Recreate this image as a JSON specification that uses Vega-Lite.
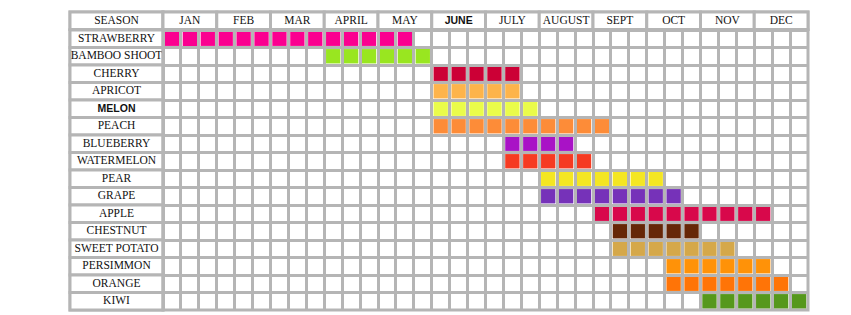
{
  "$schema": "https://vega.github.io/schema/vega-lite/v6.json",
  "background": "white",
  "padding": {"left": 67, "top": 9, "right": 0, "bottom": 0},
  "spacing": 0,
  "bounds": "flush",
  "columns": 2,
  "config": {
    "view": {"stroke": "#b5b5b5", "strokeWidth": 3},
    "concat": {"spacing": 0},
    "text": {"font": "Liberation Serif", "fontSize": 11.5, "color": "#111111"},
    "axis": {"labels": false, "ticks": false, "domain": false, "title": null, "grid": true, "gridColor": "#b5b5b5", "gridWidth": 3, "bandPosition": 0, "minExtent": 0, "offset": 0}
  },
  "datasets": {
    "months": [
      {"m": "JAN"}, {"m": "FEB"}, {"m": "MAR"}, {"m": "APRIL"}, {"m": "MAY"}, {"m": "JUNE"},
      {"m": "JULY"}, {"m": "AUGUST"}, {"m": "SEPT"}, {"m": "OCT"}, {"m": "NOV"}, {"m": "DEC"}
    ],
    "fruits": [
      {"f": "STRAWBERRY"}, {"f": "BAMBOO SHOOT"}, {"f": "CHERRY"}, {"f": "APRICOT"}, {"f": "MELON"}, {"f": "PEACH"},
      {"f": "BLUEBERRY"}, {"f": "WATERMELON"}, {"f": "PEAR"}, {"f": "GRAPE"}, {"f": "APPLE"}, {"f": "CHESTNUT"},
      {"f": "SWEET POTATO"}, {"f": "PERSIMMON"}, {"f": "ORANGE"}, {"f": "KIWI"}
    ],
    "cells": [
      {"f": "STRAWBERRY", "c": 0}, {"f": "STRAWBERRY", "c": 1}, {"f": "STRAWBERRY", "c": 2}, {"f": "STRAWBERRY", "c": 3},
      {"f": "STRAWBERRY", "c": 4}, {"f": "STRAWBERRY", "c": 5}, {"f": "STRAWBERRY", "c": 6}, {"f": "STRAWBERRY", "c": 7},
      {"f": "STRAWBERRY", "c": 8}, {"f": "STRAWBERRY", "c": 9}, {"f": "STRAWBERRY", "c": 10}, {"f": "STRAWBERRY", "c": 11},
      {"f": "STRAWBERRY", "c": 12}, {"f": "STRAWBERRY", "c": 13},
      {"f": "BAMBOO SHOOT", "c": 9}, {"f": "BAMBOO SHOOT", "c": 10}, {"f": "BAMBOO SHOOT", "c": 11}, {"f": "BAMBOO SHOOT", "c": 12},
      {"f": "BAMBOO SHOOT", "c": 13}, {"f": "BAMBOO SHOOT", "c": 14},
      {"f": "CHERRY", "c": 15}, {"f": "CHERRY", "c": 16}, {"f": "CHERRY", "c": 17}, {"f": "CHERRY", "c": 18}, {"f": "CHERRY", "c": 19},
      {"f": "APRICOT", "c": 15}, {"f": "APRICOT", "c": 16}, {"f": "APRICOT", "c": 17}, {"f": "APRICOT", "c": 18}, {"f": "APRICOT", "c": 19},
      {"f": "MELON", "c": 15}, {"f": "MELON", "c": 16}, {"f": "MELON", "c": 17}, {"f": "MELON", "c": 18}, {"f": "MELON", "c": 19}, {"f": "MELON", "c": 20},
      {"f": "PEACH", "c": 15}, {"f": "PEACH", "c": 16}, {"f": "PEACH", "c": 17}, {"f": "PEACH", "c": 18}, {"f": "PEACH", "c": 19},
      {"f": "PEACH", "c": 20}, {"f": "PEACH", "c": 21}, {"f": "PEACH", "c": 22}, {"f": "PEACH", "c": 23}, {"f": "PEACH", "c": 24},
      {"f": "BLUEBERRY", "c": 19}, {"f": "BLUEBERRY", "c": 20}, {"f": "BLUEBERRY", "c": 21}, {"f": "BLUEBERRY", "c": 22},
      {"f": "WATERMELON", "c": 19}, {"f": "WATERMELON", "c": 20}, {"f": "WATERMELON", "c": 21}, {"f": "WATERMELON", "c": 22}, {"f": "WATERMELON", "c": 23},
      {"f": "PEAR", "c": 21}, {"f": "PEAR", "c": 22}, {"f": "PEAR", "c": 23}, {"f": "PEAR", "c": 24}, {"f": "PEAR", "c": 25}, {"f": "PEAR", "c": 26}, {"f": "PEAR", "c": 27},
      {"f": "GRAPE", "c": 21}, {"f": "GRAPE", "c": 22}, {"f": "GRAPE", "c": 23}, {"f": "GRAPE", "c": 24}, {"f": "GRAPE", "c": 25},
      {"f": "GRAPE", "c": 26}, {"f": "GRAPE", "c": 27}, {"f": "GRAPE", "c": 28},
      {"f": "APPLE", "c": 24}, {"f": "APPLE", "c": 25}, {"f": "APPLE", "c": 26}, {"f": "APPLE", "c": 27}, {"f": "APPLE", "c": 28},
      {"f": "APPLE", "c": 29}, {"f": "APPLE", "c": 30}, {"f": "APPLE", "c": 31}, {"f": "APPLE", "c": 32}, {"f": "APPLE", "c": 33},
      {"f": "CHESTNUT", "c": 25}, {"f": "CHESTNUT", "c": 26}, {"f": "CHESTNUT", "c": 27}, {"f": "CHESTNUT", "c": 28}, {"f": "CHESTNUT", "c": 29},
      {"f": "SWEET POTATO", "c": 25}, {"f": "SWEET POTATO", "c": 26}, {"f": "SWEET POTATO", "c": 27}, {"f": "SWEET POTATO", "c": 28},
      {"f": "SWEET POTATO", "c": 29}, {"f": "SWEET POTATO", "c": 30}, {"f": "SWEET POTATO", "c": 31},
      {"f": "PERSIMMON", "c": 28}, {"f": "PERSIMMON", "c": 29}, {"f": "PERSIMMON", "c": 30}, {"f": "PERSIMMON", "c": 31}, {"f": "PERSIMMON", "c": 32}, {"f": "PERSIMMON", "c": 33},
      {"f": "ORANGE", "c": 28}, {"f": "ORANGE", "c": 29}, {"f": "ORANGE", "c": 30}, {"f": "ORANGE", "c": 31}, {"f": "ORANGE", "c": 32}, {"f": "ORANGE", "c": 33}, {"f": "ORANGE", "c": 34},
      {"f": "KIWI", "c": 30}, {"f": "KIWI", "c": 31}, {"f": "KIWI", "c": 32}, {"f": "KIWI", "c": 33}, {"f": "KIWI", "c": 34}, {"f": "KIWI", "c": 35}
    ]
  },
  "concat": [
    {
      "width": 93,
      "height": 17.5,
      "data": {"values": [{"t": "SEASON"}]},
      "encoding": {
        "x": {"field": "t", "type": "nominal", "axis": null, "scale": {"paddingInner": 0, "paddingOuter": 0}},
        "y": {"field": "t", "type": "nominal", "axis": null, "scale": {"paddingInner": 0, "paddingOuter": 0}}
      },
      "layer": [
        {"mark": {"type": "rect", "fill": "white", "stroke": "#b5b5b5", "strokeWidth": 3}},
        {"mark": {"type": "text"}, "encoding": {"text": {"field": "t", "type": "nominal"}}}
      ]
    },
    {
      "width": 645,
      "height": 17.5,
      "data": {"name": "months"},
      "encoding": {
        "x": {"field": "m", "type": "nominal", "axis": null,
              "scale": {"domain": ["JAN", "FEB", "MAR", "APRIL", "MAY", "JUNE", "JULY", "AUGUST", "SEPT", "OCT", "NOV", "DEC"], "paddingInner": 0, "paddingOuter": 0}}
      },
      "layer": [
        {"mark": {"type": "rect", "fill": "white", "stroke": "#b5b5b5", "strokeWidth": 3}},
        {"transform": [{"filter": "datum.m !== 'JUNE'"}], "mark": {"type": "text"}, "encoding": {"text": {"field": "m", "type": "nominal"}}},
        {"transform": [{"filter": "datum.m === 'JUNE'"}], "mark": {"type": "text", "fontWeight": "bold", "font": "Liberation Sans", "fontSize": 10.5}, "encoding": {"text": {"field": "m", "type": "nominal"}}}
      ]
    },
    {
      "width": 93,
      "height": 280,
      "data": {"name": "fruits"},
      "encoding": {
        "y": {"field": "f", "type": "nominal", "axis": null,
              "scale": {"domain": ["STRAWBERRY", "BAMBOO SHOOT", "CHERRY", "APRICOT", "MELON", "PEACH", "BLUEBERRY", "WATERMELON", "PEAR", "GRAPE", "APPLE", "CHESTNUT", "SWEET POTATO", "PERSIMMON", "ORANGE", "KIWI"], "paddingInner": 0, "paddingOuter": 0}}
      },
      "layer": [
        {"mark": {"type": "rect", "fill": "white", "stroke": "#b5b5b5", "strokeWidth": 3}},
        {"transform": [{"filter": "datum.f !== 'MELON'"}], "mark": {"type": "text"}, "encoding": {"text": {"field": "f", "type": "nominal"}}},
        {"transform": [{"filter": "datum.f === 'MELON'"}], "mark": {"type": "text", "fontWeight": "bold", "font": "Liberation Sans", "fontSize": 10.5}, "encoding": {"text": {"field": "f", "type": "nominal"}}}
      ]
    },
    {
      "width": 645,
      "height": 280,
      "data": {"name": "cells"},
      "mark": {"type": "rect", "width": {"band": 0.8}, "height": {"band": 0.82}},
      "encoding": {
        "x": {"field": "c", "type": "ordinal",
              "scale": {"domain": [0,1,2,3,4,5,6,7,8,9,10,11,12,13,14,15,16,17,18,19,20,21,22,23,24,25,26,27,28,29,30,31,32,33,34,35], "paddingInner": 0, "paddingOuter": 0}},
        "y": {"field": "f", "type": "nominal",
              "scale": {"domain": ["STRAWBERRY", "BAMBOO SHOOT", "CHERRY", "APRICOT", "MELON", "PEACH", "BLUEBERRY", "WATERMELON", "PEAR", "GRAPE", "APPLE", "CHESTNUT", "SWEET POTATO", "PERSIMMON", "ORANGE", "KIWI"], "paddingInner": 0, "paddingOuter": 0}},
        "color": {"field": "f", "type": "nominal", "legend": null,
                  "scale": {"domain": ["STRAWBERRY", "BAMBOO SHOOT", "CHERRY", "APRICOT", "MELON", "PEACH", "BLUEBERRY", "WATERMELON", "PEAR", "GRAPE", "APPLE", "CHESTNUT", "SWEET POTATO", "PERSIMMON", "ORANGE", "KIWI"],
                            "range": ["#fb0090", "#99e620", "#cc0036", "#fdb44b", "#eafc4a", "#fd8c38", "#a912c6", "#f63b22", "#f4e623", "#7632b9", "#d8084b", "#662707", "#d5a84a", "#ff9208", "#ff7407", "#56981c"]}}
      }
    }
  ]
}
